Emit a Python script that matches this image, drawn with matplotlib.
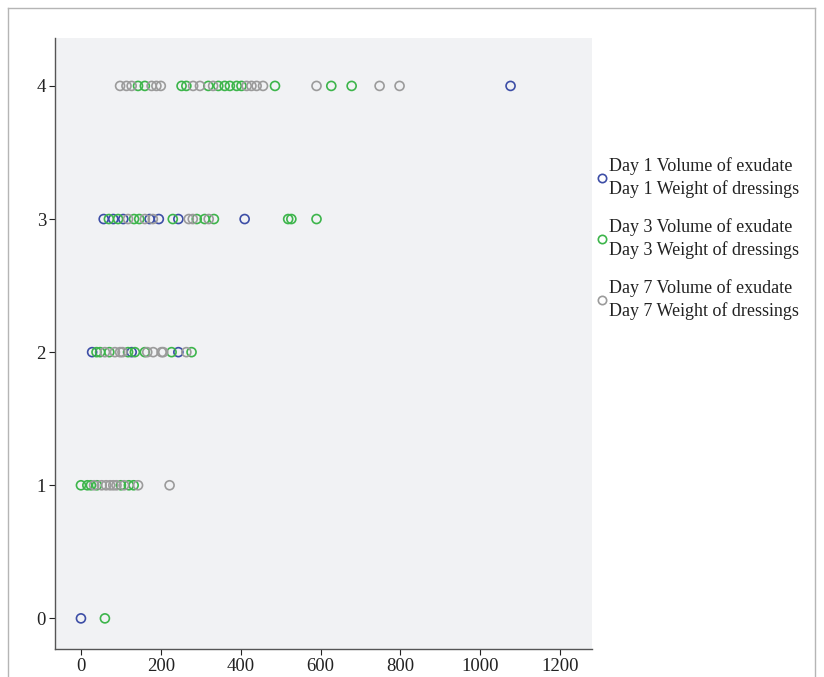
import matplotlib
matplotlib.use("Agg")
import matplotlib.pyplot as plt
from matplotlib.lines import Line2D

plt.rcParams['font.family'] = ['Liberation Serif', 'DejaVu Serif']

# Day 1 (blue)
day1_x = [1076, 57, 81, 106, 172, 195, 244, 410, 28, 127, 244, 0]
day1_y = [4, 3, 3, 3, 3, 3, 3, 3, 2, 2, 2, 0]

# Day 3 (green)
day3_x = [143, 160, 252, 264, 319, 344, 360, 373, 390, 402, 486, 627, 678,
          70, 93, 133, 146, 230, 290, 310, 333, 519, 527, 590,
          39, 48, 71, 118, 135, 160, 227, 277,
          0, 16, 25, 40, 100, 120, 132,
          60]
day3_y = [4] * 13 + [3] * 11 + [2] * 8 + [1] * 7 + [0]

# Day 7 (gray)
day7_x = [98, 114, 127, 177, 189, 200, 281, 298, 331, 415, 427, 440, 456, 590, 748, 798,
          118, 160, 180, 270, 280, 320,
          60, 85, 98, 104, 166, 181, 202, 206, 264,
          33, 52, 63, 73, 81, 89, 108, 143, 222]
day7_y = [4] * 16 + [3] * 6 + [2] * 9 + [1] * 9

labels = ["Day 1 Volume of exudate\nDay 1 Weight of dressings",
          "Day 3 Volume of exudate\nDay 3 Weight of dressings",
          "Day 7 Volume of exudate\nDay 7 Weight of dressings"]
colors = ["#3d4ea6", "#3db54b", "#9b9b9b"]
x_ticks = [0, 200, 400, 600, 800, 1000, 1200]
y_ticks = [0, 1, 2, 3, 4]

fig = plt.figure(figsize=(8.24, 6.77), dpi=100)
ax = fig.add_axes([55 / 824, 28 / 677, 537 / 824, 611 / 677])
ax.set_facecolor("#f1f2f4")

for xs, ys, c in zip([day1_x, day3_x, day7_x], [day1_y, day3_y, day7_y], colors):
    ax.scatter(xs, ys, s=42, facecolors="none", edgecolors=c, linewidths=1.2)

ax.set_xlim(-65, 1280)
ax.set_ylim(-0.23, 4.36)
ax.set_xticks(x_ticks)
ax.set_yticks(y_ticks)
ax.tick_params(labelsize=13.5, colors="#222222", length=4, width=0.8, pad=2.5)
for side in ["top", "right"]:
    ax.spines[side].set_visible(False)
for side in ["left", "bottom"]:
    ax.spines[side].set_color("#555555")
    ax.spines[side].set_linewidth(1.0)

handles = [Line2D([], [], linestyle="none", marker="o", markersize=6,
                  markerfacecolor="none", markeredgecolor=c, markeredgewidth=1.2)
           for c in colors]
leg = ax.legend(handles, labels, loc="upper left", bbox_to_anchor=(0.995, 0.817),
                frameon=False, fontsize=13, handlelength=0.6, handletextpad=0.1,
                labelspacing=1.13, borderaxespad=0)
for t in leg.get_texts():
    t.set_color("#222222")
    t.set_linespacing(1.35)

# outer frame
frame = dict(color="#b5b5b5", linewidth=1.0, transform=fig.transFigure, clip_on=False)
fig.add_artist(Line2D([8 / 824, 8 / 824], [0, 1 - 8 / 677], **frame))
fig.add_artist(Line2D([8 / 824, 815 / 824], [1 - 8 / 677, 1 - 8 / 677], **frame))
fig.add_artist(Line2D([815 / 824, 815 / 824], [0, 1 - 8 / 677], **frame))

fig.savefig("out.png", dpi=100)
